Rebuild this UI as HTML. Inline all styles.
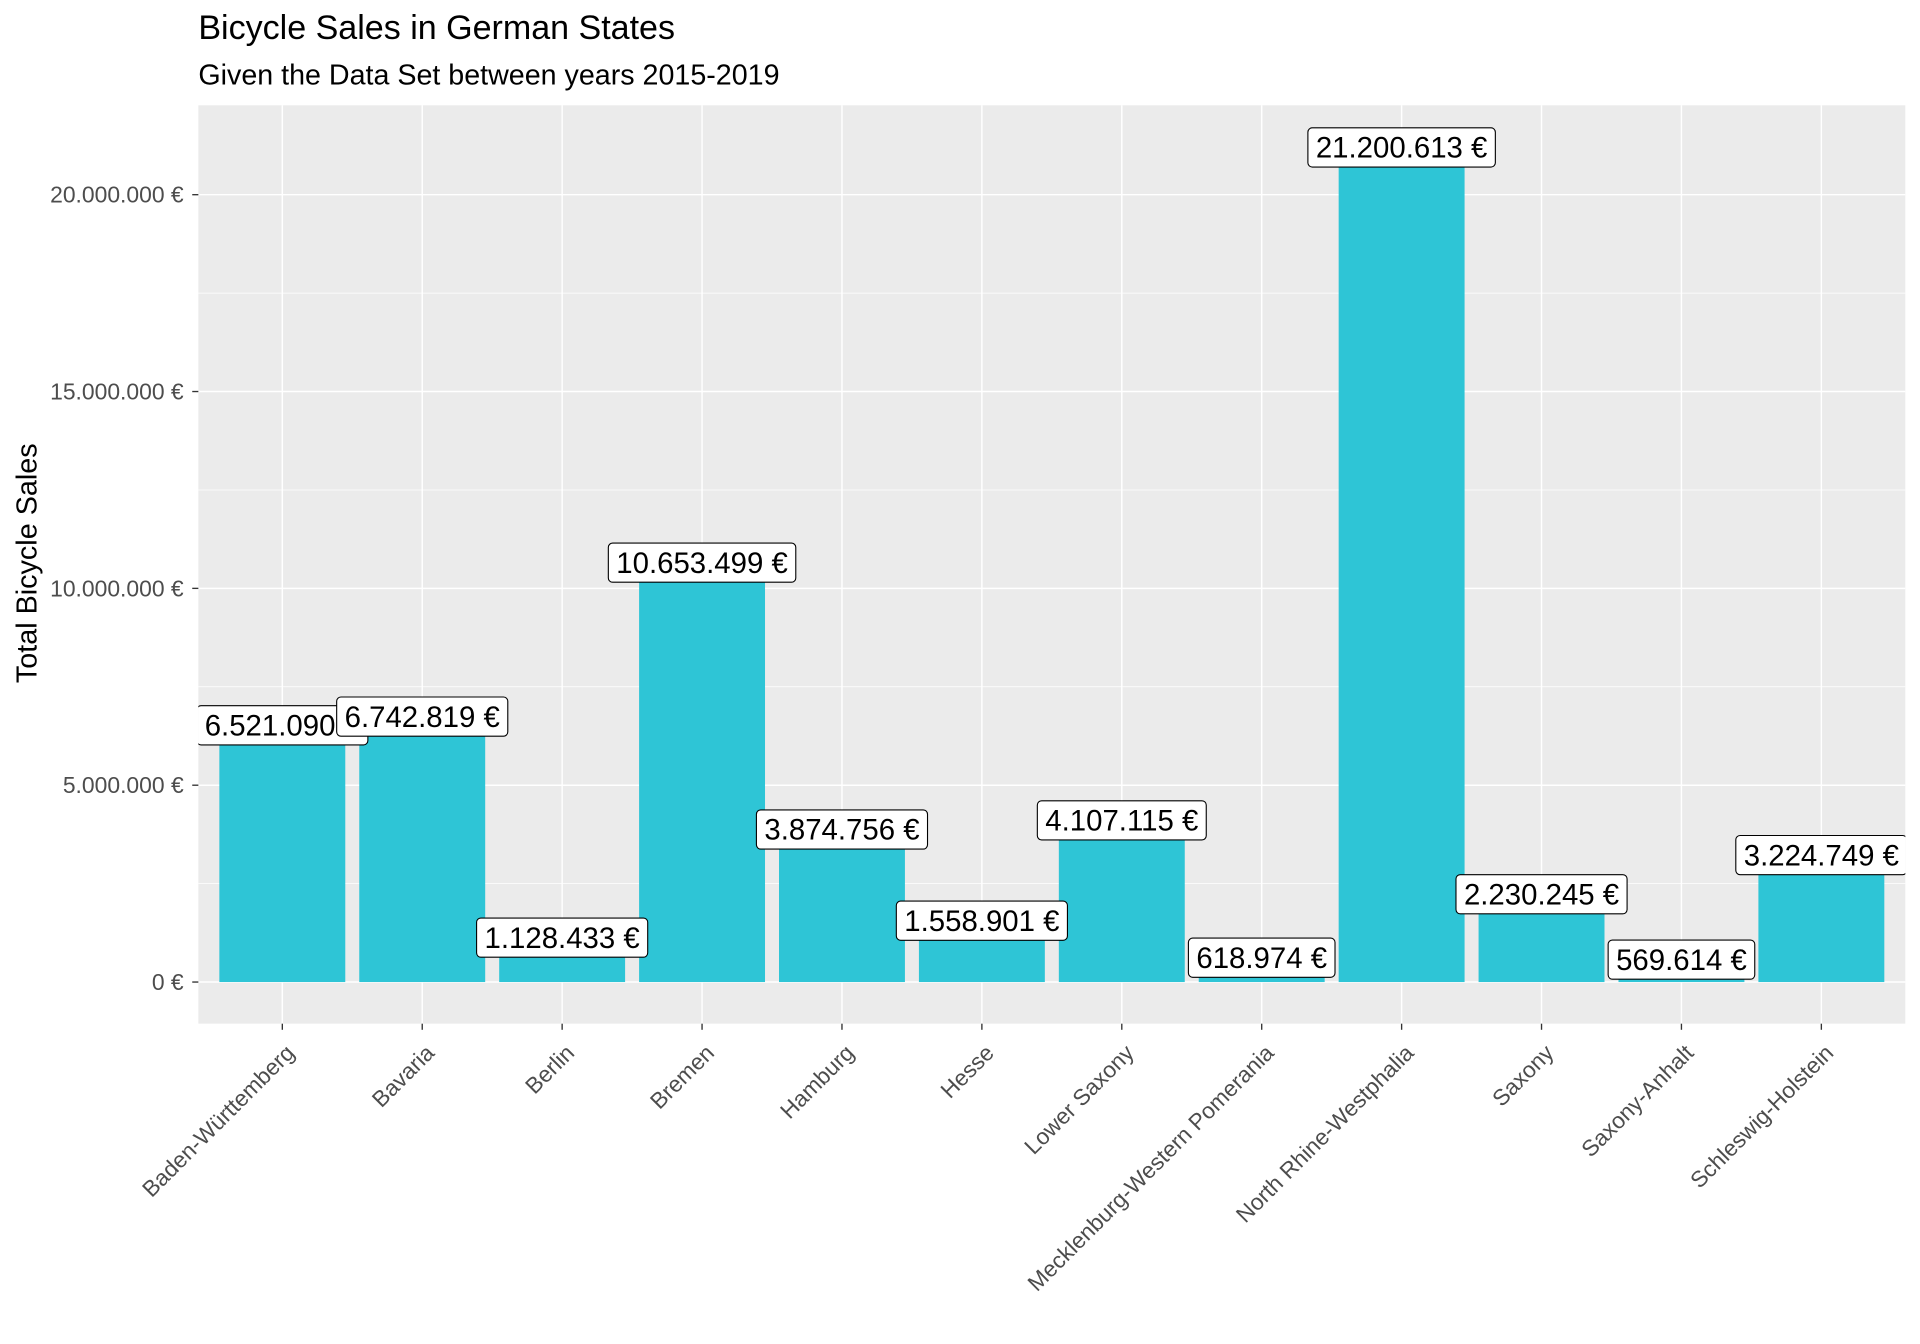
<!DOCTYPE html>
<html><head><meta charset="utf-8"><style>
html,body{margin:0;padding:0;background:#fff;}
svg{display:block;font-family:"Liberation Sans",Arial,sans-serif;}
</style></head><body>
<svg id="chart" width="1920" height="1344" viewBox="0 0 1568 1097.6" xmlns="http://www.w3.org/2000/svg">
<defs><clipPath id="pclip"><rect x="162" y="86" width="1394" height="750"/></clipPath></defs>
<text x="162" y="32" font-size="27.8" fill="#000">Bicycle Sales in German States</text>
<text x="162" y="69" font-size="23.4" fill="#000">Given the Data Set between years 2015-2019</text>
<text transform="translate(30,460) rotate(-90)" text-anchor="middle" font-size="23.5" fill="#000">Total Bicycle Sales</text>
<rect x="162" y="86" width="1394" height="750" fill="#ebebeb"/>
<g id="grid"></g>
<g id="bars"></g>
<g id="labels" clip-path="url(#pclip)"></g>
<g id="axes"></g>
</svg>
<script>
const categories = ["Baden-Württemberg","Bavaria","Berlin","Bremen","Hamburg","Hesse","Lower Saxony","Mecklenburg-Western Pomerania","North Rhine-Westphalia","Saxony","Saxony-Anhalt","Schleswig-Holstein"];
const salesValues = [6521090,6742819,1128433,10653499,3874756,1558901,4107115,618974,21200613,2230245,569614,3224749];
const valueLabels = ["6.521.090 €","6.742.819 €","1.128.433 €","10.653.499 €","3.874.756 €","1.558.901 €","4.107.115 €","618.974 €","21.200.613 €","2.230.245 €","569.614 €","3.224.749 €"];
const yTicks = [0,5000000,10000000,15000000,20000000];
const yTickLabels = ["0 €","5.000.000 €","10.000.000 €","15.000.000 €","20.000.000 €"];

const NS="http://www.w3.org/2000/svg";
const PL=162,PR=1556,PT=86,PB=836;
const y0=802, pxPer=(802-159)/20000000;
function yScale(v){return y0-v*pxPer;}
const step=(PR-PL)/(categories.length+0.2);
function xScale(i){return PL+step*(i+0.6);}
const barW=step*0.9;
function mk(tag,attrs,parent){const e=document.createElementNS(NS,tag);for(const k in attrs)e.setAttribute(k,attrs[k]);parent.appendChild(e);return e;}
const grid=document.getElementById('grid'),bars=document.getElementById('bars'),labels=document.getElementById('labels'),axes=document.getElementById('axes');
for(let i=0;i<yTicks.length;i++){
  const my=yScale(yTicks[i]+2500000);
  if(my>PT){const l=mk('line',{x1:PL,x2:PR,y1:my,y2:my,stroke:'#fff','stroke-width':0.6},grid);
  
  }
}
yTicks.forEach((t,i)=>{
  const y=yScale(t);
  const l=mk('line',{x1:PL,x2:PR,y1:y,y2:y,stroke:'#fff','stroke-width':1.2},grid);
  
  
  const tk=mk('line',{x1:157,x2:162,y1:y,y2:y,stroke:'#333','stroke-width':1.1},axes);
  
  
  const tx=mk('text',{x:150,y:y+6.5,'text-anchor':'end','font-size':18.7,fill:'#4d4d4d'},axes);
  tx.textContent=yTickLabels[i];
  
  
});
categories.forEach((c,i)=>{
  const x=xScale(i);
  const g=mk('line',{x1:x,x2:x,y1:PT,y2:PB,stroke:'#fff','stroke-width':1.2},grid);
  
  
  const b=mk('rect',{x:x-barW/2,y:yScale(salesValues[i]),width:barW,height:y0-yScale(salesValues[i]),fill:'#2ec5d6'},bars);
  
  
  const tk=mk('line',{x1:x,x2:x,y1:PB,y2:PB+5,stroke:'#333','stroke-width':1.1},axes);
  
  
  const tx=mk('text',{transform:`translate(${x+11},${PB+25}) rotate(-45)`,'text-anchor':'end','font-size':18.5,fill:'#4d4d4d'},axes);
  tx.textContent=c;
  
  
});
categories.forEach((c,i)=>{
  const x=xScale(i),y=yScale(salesValues[i]);
  const g=mk('g',{},labels);
  
  
  const r=mk('rect',{rx:3.5,ry:3.5,fill:'#fff',stroke:'#000','stroke-width':0.9,y:y-16,height:32},g);
  const t=mk('text',{x:x,y:y+8.3,'text-anchor':'middle','font-size':24,fill:'#000'},g);
  t.textContent=valueLabels[i];
  const w=t.getComputedTextLength()+13;
  r.setAttribute('x',x-w/2);r.setAttribute('width',w);
});
</script>
</body></html>
